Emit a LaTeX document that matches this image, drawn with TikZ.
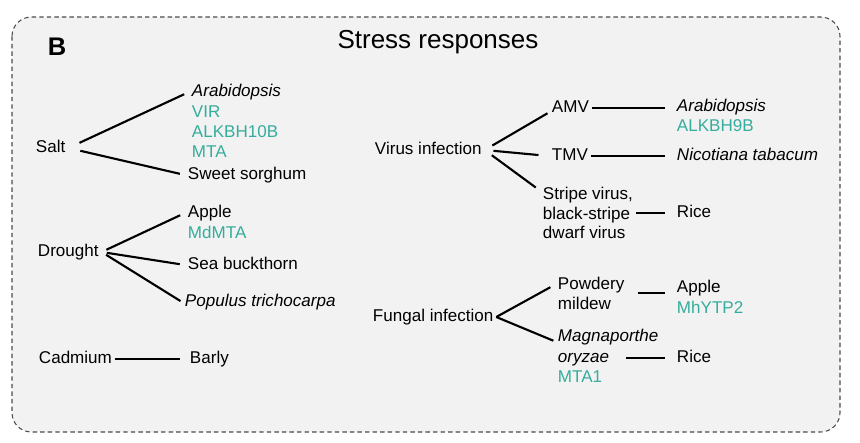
\documentclass[tikz,border=0pt]{standalone}
\usepackage{fontspec}
\setmainfont{Liberation Sans}
\usetikzlibrary{positioning,calc}
\definecolor{geneteal}{HTML}{35AD9C}
\definecolor{panelbg}{HTML}{F2F2F2}

\begin{document}
\begin{tikzpicture}[x=0.02cm,y=-0.02cm,
    lbl/.style={anchor=west,inner sep=1.5pt,font=\fontsize{9.7}{11.3}\selectfont,text height=7pt,text depth=2pt},
    gene/.style={lbl,text=geneteal},
    sp/.style={lbl,font=\fontsize{9.7}{11.3}\selectfont\itshape},
    multi/.style={anchor=west,inner sep=1.5pt,font=\fontsize{9.7}{11.3}\selectfont,align=left},
    link/.style={line width=1.2pt,shorten >=3pt,shorten <=3pt},
    hlink/.style={line width=1.2pt,shorten >=5pt}]
    % Frame
    \useasboundingbox (0,0) rectangle (860,443);
    \fill[white] (0,0) rectangle (860,443);
    \draw[gray!60!black,line width=0.6pt,dash pattern=on 2.5pt off 1.8pt,rounded corners=11pt,fill=panelbg]
        (12,17) rectangle (840,432);
    \node[font=\fontsize{14.5}{16}\selectfont\bfseries] (panel) at (57,47) {B};
    \node[font=\fontsize{14.8}{17}\selectfont] (title) at (438,42) {Stress responses};

    % Salt
    \node[lbl] (salt) at (33,148) {Salt};
    \node[sp] (arab1) at (189,92) {Arabidopsis};
    \node[gene] (vir) at (189,113) {VIR};
    \node[gene] (alk10) at (189,133) {ALKBH10B};
    \node[gene] (mta) at (189,153) {MTA};
    \node[lbl] (sorg) at (185,175) {Sweet sorghum};
    \draw[link,shorten <=7pt] (salt.east) -- (arab1.west);
    \draw[link,shorten <=7pt] (salt.east) -- (sorg.west);

    % Drought
    \node[lbl] (drought) at (35,252) {Drought};
    \node[lbl] (apple1) at (185,213) {Apple};
    \node[gene] (mdmta) at (185,234) {MdMTA};
    \node[lbl] (seab) at (185,265) {Sea buckthorn};
    \node[sp] (popu) at (182,302) {Populus trichocarpa};
    \draw[link] (drought.east) -- (apple1.west);
    \draw[link] (drought.east) -- (seab.west);
    \draw[link,shorten >=1pt] (drought.east) -- (popu.west);

    % Cadmium
    \node[lbl] (cad) at (36,359) {Cadmium};
    \node[lbl] (barly) at (187,359) {Barly};
    \draw[link,shorten <=0pt,shorten >=4pt] (cad.east) -- (barly.west);

    % Virus infection
    \node[lbl] (virus) at (372,150) {Virus infection};
    \node[lbl] (amv) at (549,108) {AMV};
    \node[lbl] (tmv) at (549,156) {TMV};
    \node[multi] (stripe) at (540,213) {Stripe virus,\\black-stripe\\dwarf virus};
    \node[sp] (arab2) at (674,107) {Arabidopsis};
    \node[gene] (alk9) at (674,127) {ALKBH9B};
    \node[sp] (nico) at (674,156) {Nicotiana tabacum};
    \node[lbl] (rice1) at (674,213) {Rice};
    \draw[link,shorten <=5pt,shorten >=1pt] (virus.east) -- (amv.base west);
    \draw[link,shorten <=5pt,shorten >=6pt] (virus.east) -- (tmv.west);
    \draw[link,shorten <=5pt] (virus.east) -- (stripe.155);
    \draw[hlink] (amv.east) -- (amv.east -| arab2.west);
    \draw[hlink] (tmv.east) -- (tmv.east -| nico.west);
    \draw[hlink] (stripe.east) -- (stripe.east -| rice1.west);

    % Fungal infection
    \node[lbl] (fungal) at (370,317) {Fungal infection};
    \node[multi] (powd) at (555,293) {Powdery\\mildew};
    \node[lbl] (apple2) at (674,288) {Apple};
    \node[gene] (mhytp) at (674,309) {MhYTP2};
    \node[sp] (mag) at (555,337) {Magnaporthe};
    \node[sp] (ory) at (555,358) {oryzae};
    \node[gene] (mta1) at (555,378) {MTA1};
    \node[lbl] (rice2) at (674,358) {Rice};
    \draw[link,shorten <=0pt] (fungal.east) -- (powd.167);
    \draw[link,shorten <=0pt,shorten >=1pt] (fungal.east) -- (mag.base west);
    \draw[hlink,shorten <=6pt] (powd.east) -- (powd.east -| apple2.west);
    \draw[hlink,shorten <=8pt] (ory.east) -- (ory.east -| rice2.west);
\end{tikzpicture}
\end{document}
